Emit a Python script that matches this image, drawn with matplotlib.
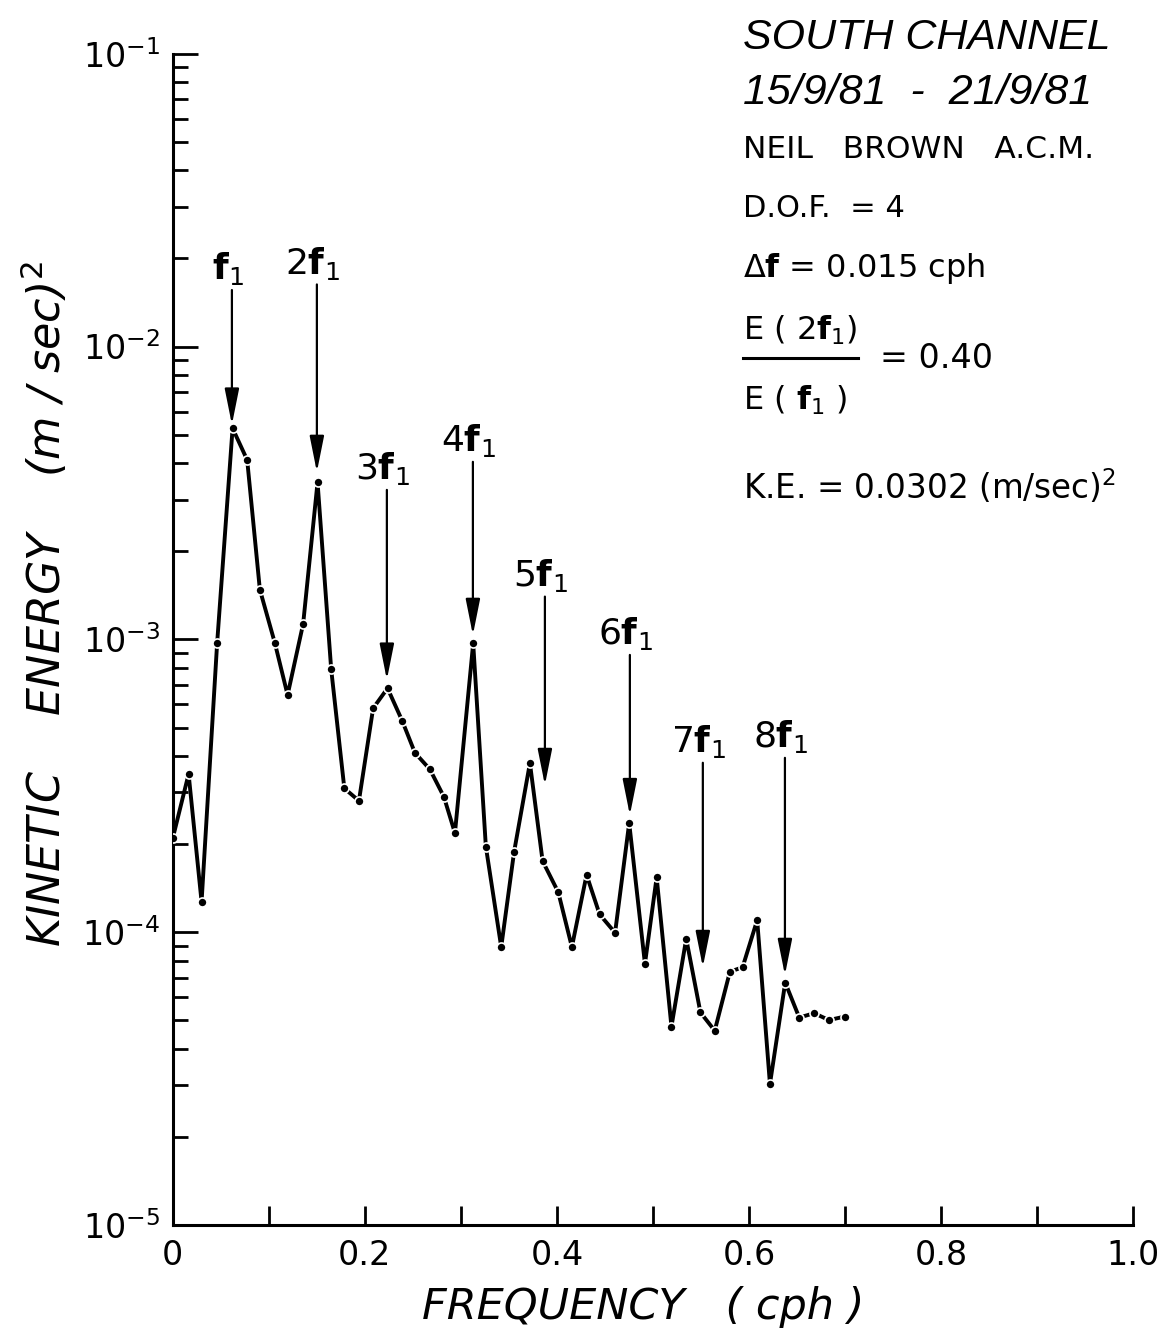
import numpy as np
import matplotlib
matplotlib.use('Agg')
import matplotlib.pyplot as plt
from matplotlib.lines import Line2D
from matplotlib.ticker import LogLocator, NullFormatter

plt.rcParams['font.family'] = ['DejaVu Sans']
plt.rcParams['mathtext.fontset'] = 'dejavusans'

# spectrum (cph, (m/sec)^2)
freq = [0.000, 0.0164, 0.0299, 0.0461, 0.0622, 0.0774, 0.0906, 0.1063, 0.1195, 0.1357,
        0.1507, 0.1649, 0.1786, 0.1938, 0.2086, 0.2236, 0.2389, 0.2521, 0.2677, 0.2823,
        0.2938, 0.3128, 0.3260, 0.3420, 0.3554, 0.3719, 0.3851, 0.4014, 0.4156, 0.4309,
        0.4445, 0.4606, 0.4753, 0.4917, 0.5039, 0.5193, 0.5347, 0.5495, 0.5644, 0.5802,
        0.5934, 0.6086, 0.6219, 0.6378, 0.6524, 0.6680, 0.6833, 0.6997]
energy = [2.10e-4, 3.47e-4, 1.27e-4, 9.7e-4, 5.26e-3, 4.10e-3, 1.48e-3, 9.7e-4, 6.46e-4, 1.13e-3,
          3.44e-3, 7.91e-4, 3.10e-4, 2.81e-4, 5.82e-4, 6.81e-4, 5.27e-4, 4.10e-4, 3.60e-4, 2.90e-4,
          2.18e-4, 9.7e-4, 1.96e-4, 8.9e-5, 1.88e-4, 3.78e-4, 1.75e-4, 1.37e-4, 8.9e-5, 1.57e-4,
          1.15e-4, 9.96e-5, 2.36e-4, 7.8e-5, 1.54e-4, 4.76e-5, 9.5e-5, 5.32e-5, 4.61e-5, 7.33e-5,
          7.59e-5, 1.10e-4, 3.03e-5, 6.73e-5, 5.11e-5, 5.29e-5, 5.01e-5, 5.15e-5]

# harmonic markers
harm_labels = [r'$\mathbf{f}_1$', r'2$\mathbf{f}_1$', r'3$\mathbf{f}_1$', r'4$\mathbf{f}_1$',
               r'5$\mathbf{f}_1$', r'6$\mathbf{f}_1$', r'7$\mathbf{f}_1$', r'8$\mathbf{f}_1$']
harm_freq = [0.0615, 0.150, 0.2229, 0.3125, 0.3875, 0.476, 0.552, 0.6375]
arrow_top = [1.56e-2, 1.63e-2, 3.24e-3, 4.04e-3, 1.40e-3, 8.85e-4, 3.79e-4, 3.94e-4]
arrow_tip = [5.41e-3, 3.73e-3, 7.28e-4, 1.035e-3, 3.18e-4, 2.51e-4, 7.6e-5, 7.14e-5]

xticks = [0, 0.1, 0.2, 0.3, 0.4, 0.5, 0.6, 0.7, 0.8, 0.9, 1.0]
xtick_labels = ['0', '', '0.2', '', '0.4', '', '0.6', '', '0.8', '', '1.0']

fig = plt.figure(figsize=(11.68, 13.34), dpi=100)
ax = fig.add_axes([0.148, 0.0817, 0.822, 0.878])

ax.plot(freq, energy, color='k', lw=2.8, marker='o', ms=6.5,
        mfc='k', mec='white', mew=1.2, zorder=3)

for lab, fx, ytop, ytip in zip(harm_labels, harm_freq, arrow_top, arrow_tip):
    ax.annotate('', xy=(fx, ytip), xytext=(fx, ytop),
                arrowprops=dict(arrowstyle='-|>,head_length=1.1,head_width=0.22',
                                lw=1.6, color='k', shrinkA=0, shrinkB=0,
                                mutation_scale=20))
    ax.annotate(lab, xy=(fx, ytop), xytext=(-3, 2), textcoords='offset points',
                ha='center', va='bottom', fontsize=26)

ax.set_yscale('log')
ax.set_xlim(0, 1.0)
ax.set_ylim(1e-5, 1e-1)

ax.spines['top'].set_visible(False)
ax.spines['right'].set_visible(False)
ax.spines['left'].set_linewidth(2.2)
ax.spines['bottom'].set_linewidth(2.2)

ax.set_xticks(xticks)
ax.set_xticklabels(xtick_labels)
ax.yaxis.set_major_locator(LogLocator(base=10, numticks=10))
ax.yaxis.set_minor_locator(LogLocator(base=10, subs=np.arange(2, 10), numticks=20))
ax.yaxis.set_minor_formatter(NullFormatter())

ax.tick_params(axis='x', which='major', direction='in', length=14, width=2, labelsize=24, pad=10)
ax.tick_params(axis='y', which='major', direction='in', length=18, width=2, labelsize=24, pad=9)
ax.tick_params(axis='y', which='minor', direction='in', length=11, width=2)

ax.set_xlabel('FREQUENCY   ( cph )', fontsize=31, style='italic')
ax.xaxis.set_label_coords(0.49, -0.052)
ax.set_ylabel(r'KINETIC    ENERGY    (m / sec)$^2$', fontsize=32, style='italic')
ax.yaxis.set_label_coords(-0.107, 0.53)

# annotation block, top right
tx = 0.636
title_font = ['Liberation Sans', 'DejaVu Sans']
fig.text(tx, 0.9715, 'SOUTH CHANNEL', fontsize=31, style='italic',
         family=title_font, va='center')
fig.text(tx, 0.930, '15/9/81  -  21/9/81', fontsize=31, style='italic',
         family=title_font, va='center')
fig.text(tx, 0.8876, 'NEIL   BROWN   A.C.M.', fontsize=22.5, va='center')
fig.text(tx, 0.844, 'D.O.F.  = 4', fontsize=22, va='center')
fig.text(tx, 0.799, r'$\Delta\mathbf{f}$ = 0.015 cph', fontsize=23, va='center')
fig.text(tx, 0.7526, r'E ( 2$\mathbf{f}_1$)', fontsize=23, va='center')
fig.add_artist(Line2D([tx, 0.7346], [0.7316, 0.7316], color='k', lw=2.2,
                      transform=fig.transFigure))
fig.text(0.7534, 0.7316, '= 0.40', fontsize=24, va='center')
fig.text(tx, 0.700, r'E ( $\mathbf{f}_1$ )', fontsize=23, va='center')
fig.text(tx, 0.635, r'K.E. = 0.0302 (m/sec)$^2$', fontsize=23.5, va='center')

fig.savefig('out.png', dpi=100)
